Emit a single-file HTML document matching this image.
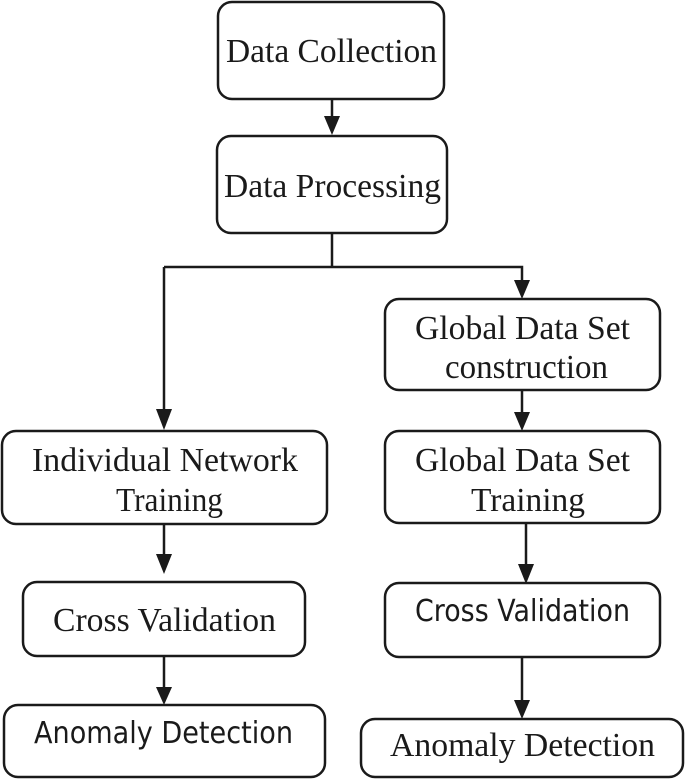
<!DOCTYPE html>
<html><head><meta charset="utf-8"><style>
html,body{margin:0;padding:0;background:#fff;}
svg{display:block;}
.s{font-family:"Liberation Serif",serif;font-size:34px;fill:#1a1a1a;}
.a{font-family:"DejaVu Sans","Liberation Sans",sans-serif;font-size:30px;fill:#1a1a1a;}
</style></head><body>
<svg width="685" height="780" viewBox="0 0 685 780" xmlns="http://www.w3.org/2000/svg">
<g fill="none" stroke="#1a1a1a" stroke-width="2.5">
<rect x="218" y="2" width="226" height="97" rx="14"/>
<rect x="217" y="136" width="230" height="97" rx="14"/>
<rect x="385" y="299" width="275" height="91" rx="14"/>
<rect x="2" y="431" width="325" height="93" rx="14"/>
<rect x="385" y="431" width="275" height="92" rx="14"/>
<rect x="23" y="582" width="282" height="74" rx="14"/>
<rect x="385" y="583" width="275" height="74" rx="14"/>
<rect x="4" y="705" width="321" height="72" rx="14"/>
<rect x="361" y="719" width="322" height="58" rx="14"/>
<path d="M332 99V118M332 233V267M164 267H522V282M164 267V411M522 390V414M164 524V556M526 523V566M164 656V689M522 657V702"/>
</g>
<g fill="#1a1a1a">
<polygon points="324,116 340,116 332,135"/>
<polygon points="514,280 530,280 522,299"/>
<polygon points="156,409 172,409 164,430"/>
<polygon points="514,412 530,412 522,431"/>
<polygon points="156,554 172,554 164,574"/>
<polygon points="518,564 534,564 526,584"/>
<polygon points="156,687 172,687 164,705"/>
<polygon points="514,700 530,700 522,719"/>
</g>
<text class="s" x="226" y="62" textLength="211" lengthAdjust="spacingAndGlyphs">Data Collection</text>
<text class="s" x="224" y="197" textLength="217" lengthAdjust="spacingAndGlyphs">Data Processing</text>
<text class="s" x="415" y="339" textLength="215" lengthAdjust="spacingAndGlyphs">Global Data Set</text>
<text class="s" x="445" y="378" textLength="163" lengthAdjust="spacingAndGlyphs">construction</text>
<text class="s" x="32" y="471" textLength="266" lengthAdjust="spacingAndGlyphs">Individual Network</text>
<text class="s" x="116" y="511" textLength="107" lengthAdjust="spacingAndGlyphs">Training</text>
<text class="s" x="415" y="471" textLength="215" lengthAdjust="spacingAndGlyphs">Global Data Set</text>
<text class="s" x="471" y="511" textLength="114" lengthAdjust="spacingAndGlyphs">Training</text>
<text class="s" x="53" y="631" textLength="223" lengthAdjust="spacingAndGlyphs">Cross Validation</text>
<text class="a" x="415" y="621" textLength="215" lengthAdjust="spacingAndGlyphs">Cross Validation</text>
<text class="a" x="34" y="743" textLength="259" lengthAdjust="spacingAndGlyphs">Anomaly Detection</text>
<text class="s" x="390" y="756" textLength="265" lengthAdjust="spacingAndGlyphs">Anomaly Detection</text>
</svg>
</body></html>
